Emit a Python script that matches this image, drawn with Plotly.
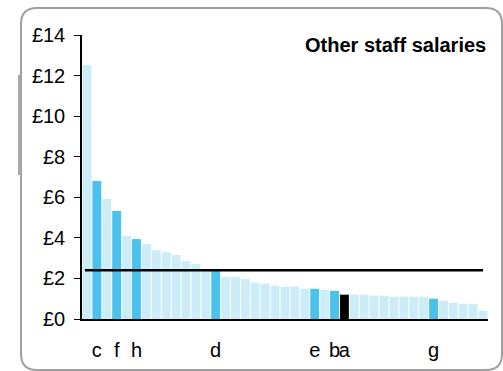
import plotly.graph_objects as go

# ---- data ----
values = [12.52, 6.80, 5.92, 5.32, 4.09, 3.94, 3.70, 3.40, 3.30, 3.15, 2.86, 2.71, 2.46,
          2.44, 2.08, 2.08, 1.98, 1.79, 1.74, 1.64, 1.59, 1.59, 1.49, 1.49, 1.44, 1.39,
          1.20, 1.20, 1.20, 1.15, 1.15, 1.10, 1.10, 1.10, 1.10, 1.00, 0.90, 0.80, 0.75,
          0.75, 0.41]
highlight = {1: "c", 3: "f", 5: "h", 13: "d", 23: "e", 25: "b", 26: "a", 35: "g"}
own_index = 26  # "a" shown in black
average = 2.40
y_tickvals = [0, 2, 4, 6, 8, 10, 12, 14]
y_ticktext = ["£0", "£2", "£4", "£6", "£8", "£10", "£12", "£14"]
title_text = "Other staff salaries"

LIGHT = "#CCECF8"
DARK = "#4AC2EB"
BLACK = "#000000"

x = list(range(len(values)))
colors = []
for i in x:
    if i == own_index:
        colors.append(BLACK)
    elif i in highlight:
        colors.append(DARK)
    else:
        colors.append(LIGHT)

W, H = 503, 371
ML, MR, MT, MB = 82, 15, 35, 52
PW, PH = W - ML - MR, H - MT - MB

def px(xp):
    return (xp - ML) / PW

def py(yp):
    return (H - MB - yp) / PH

fig = go.Figure()
fig.add_trace(go.Bar(x=x, y=values, marker=dict(color=colors, line=dict(width=0)),
                     hoverinfo="y", showlegend=False))

FONT = "Liberation Sans"

# average line
fig.add_shape(type="line", xref="x", yref="y", x0=-0.2, x1=40.0, y0=average, y1=average,
              line=dict(color="black", width=2.5), layer="above")

# rounded frame
x0, x1, y0, y1, r = 21, 502, 8, 370, 16
path = (f"M {px(x0+r)},{py(y0)} L {px(x1-r)},{py(y0)} Q {px(x1)},{py(y0)} {px(x1)},{py(y0+r)} "
        f"L {px(x1)},{py(y1-r)} Q {px(x1)},{py(y1)} {px(x1-r)},{py(y1)} "
        f"L {px(x0+r)},{py(y1)} Q {px(x0)},{py(y1)} {px(x0)},{py(y1-r)} "
        f"L {px(x0)},{py(y0+r)} Q {px(x0)},{py(y0)} {px(x0+r)},{py(y0)} Z")
fig.add_shape(type="path", xref="paper", yref="paper", path=path,
              line=dict(color="#A0A0A0", width=2), layer="below")
fig.add_shape(type="rect", xref="paper", yref="paper", x0=px(18), x1=px(21), y0=py(175), y1=py(75),
              fillcolor="#A8A8A8", line=dict(width=0))

fig.add_annotation(text=f"<b>{title_text}</b>", xref="paper", yref="paper",
                   x=px(488), y=py(45), xanchor="right", yanchor="middle",
                   showarrow=False, font=dict(family=FONT, size=20, color="black"))

fig.update_layout(
    width=W, height=H,
    margin=dict(l=ML, r=MR, t=MT, b=MB, pad=0),
    paper_bgcolor="white", plot_bgcolor="white",
    bargap=0.1,
    font=dict(family=FONT, size=20, color="black"),
    xaxis=dict(range=[-0.5, len(values) - 0.5], tickmode="array",
               tickvals=list(highlight.keys()), ticktext=list(highlight.values()),
               tickangle=0, ticks="outside", ticklen=12, tickcolor="rgba(0,0,0,0)",
               showgrid=False, zeroline=False, showline=True,
               linecolor="black", linewidth=1.5,
               tickfont=dict(family=FONT, size=20), automargin=False),
    yaxis=dict(range=[0, 14], tickmode="array", tickvals=y_tickvals, ticktext=y_ticktext,
               ticks="outside", ticklen=6, tickcolor="black", tickwidth=1,
               ticklabelstandoff=5,
               showgrid=False, zeroline=False, showline=True, linecolor="black",
               linewidth=1.5, tickfont=dict(family=FONT, size=20), automargin=False),
)

fig.write_html("out.html", config={"displayModeBar": False},
               post_script="document.body.style.margin='0';document.body.style.padding='0';")
